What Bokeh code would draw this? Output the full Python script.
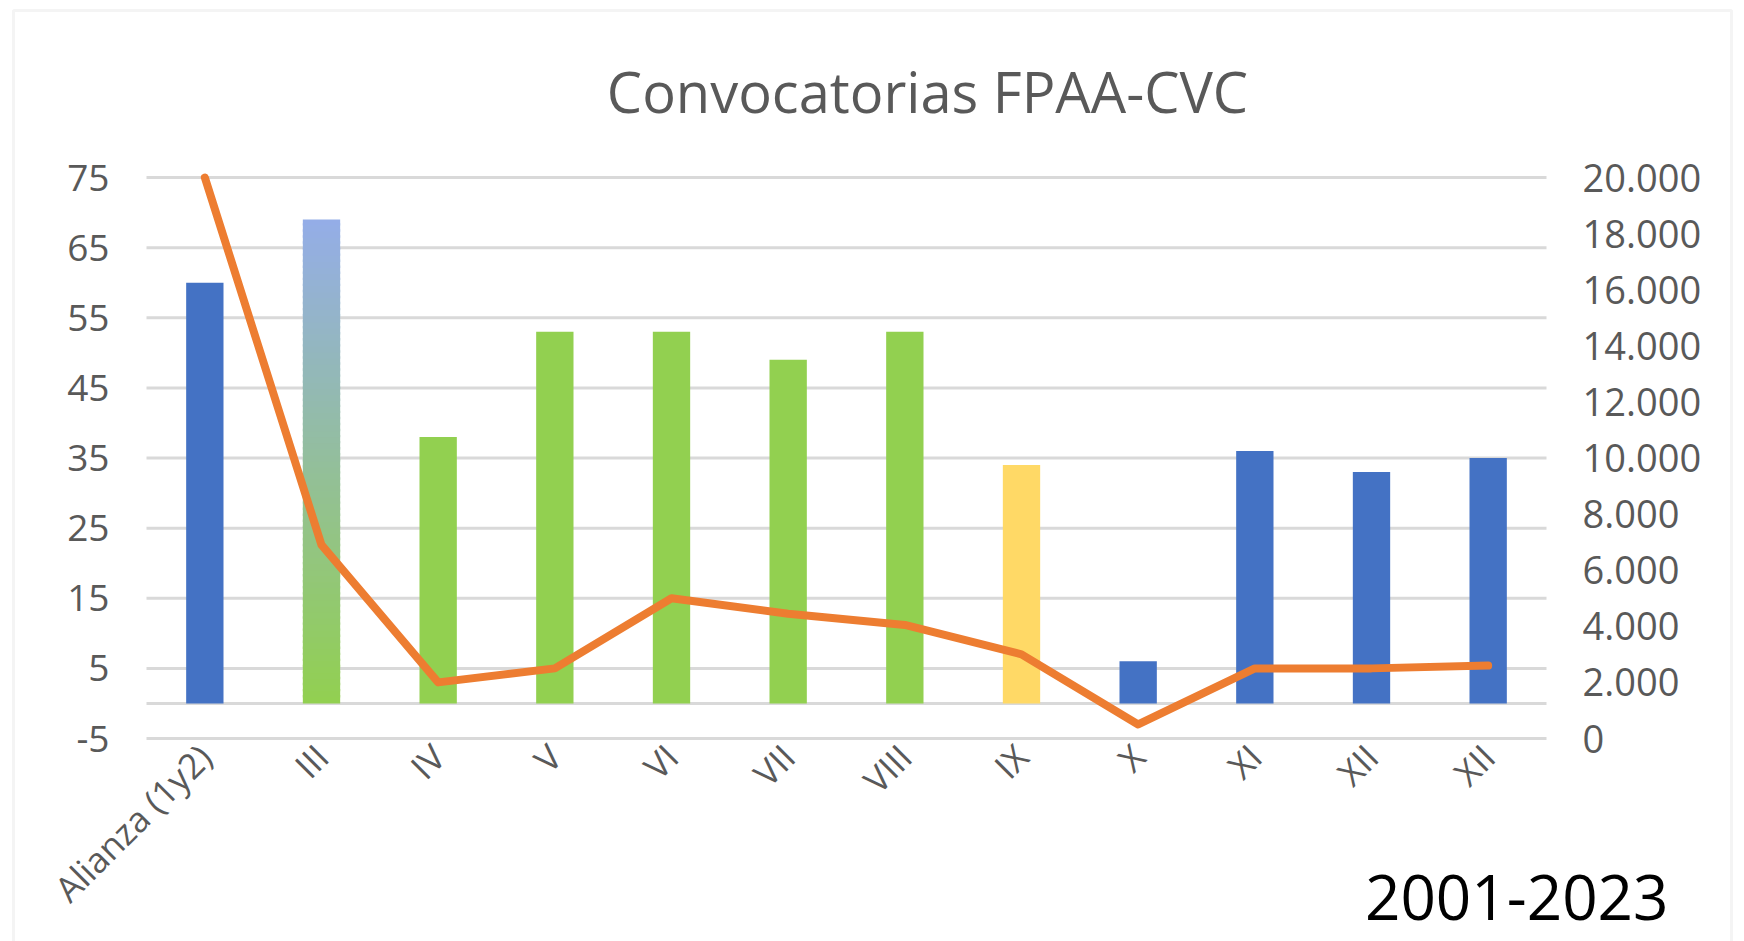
import numpy as np
from bokeh.plotting import figure
from bokeh.models import Range1d, LinearAxis, FixedTicker, Label, BoxAnnotation
from bokeh.embed import file_html
from bokeh.resources import INLINE

# ---------------- data ----------------
title_text = "Convocatorias FPAA-CVC"
period_text = "2001-2023"
categories = ["Alianza (1y2)", "III", "IV", "V", "VI", "VII", "VIII", "IX", "X", "XI", "XII", "XII"]
bar_values = [60, 69, 38, 53, 53, 49, 53, 34, 6, 36, 33, 35]
bar_colors = ["#4472C4", "gradient", "#92D050", "#92D050", "#92D050", "#92D050", "#92D050",
              "#FFD966", "#4472C4", "#4472C4", "#4472C4", "#4472C4"]
line_values = [20000, 6900, 2000, 2500, 5000, 4450, 4050, 3000, 500, 2500, 2500, 2600]
left_ticks = [-5, 5, 15, 25, 35, 45, 55, 65, 75]
left_tick_labels = ["-5", "5", "15", "25", "35", "45", "55", "65", "75"]
right_ticks = [0, 2000, 4000, 6000, 8000, 10000, 12000, 14000, 16000, 18000, 20000]
right_tick_labels = ["0", "2.000", "4.000", "6.000", "8.000", "10.000", "12.000",
                     "14.000", "16.000", "18.000", "20.000"]
left_min, left_max = -5, 75
right_min, right_max = 0, 20000
gradient_top = "#94ADE8"
gradient_bottom = "#92D050"

# ---------------- layout (pixels on the canvas) ----------------
W, H = 1744, 941
PX_L, PX_R = 146, 1546      # plot area left / right
PY_T, PY_B = 177, 738       # plot area top / bottom

n = len(categories)
x_lo, x_hi = -0.5, n - 0.5
sx = (PX_R - PX_L) / (x_hi - x_lo)
sy = (PY_B - PY_T) / (left_max - left_min)
sr = (PY_B - PY_T) / (right_max - right_min)

x_range = Range1d(x_lo - PX_L / sx, x_lo + (W - PX_L) / sx)
y_range = Range1d(left_min - (H - PY_B) / sy, left_max + PY_T / sy)
r_range = Range1d(right_min - (H - PY_B) / sr, right_max + PY_T / sr)


def px2x(px):
    return x_lo + (px - PX_L) / sx


def py2y(py):
    return left_min + (PY_B - py) / sy


p = figure(width=W, height=H, x_range=x_range, y_range=y_range,
           output_backend="svg", toolbar_location=None, min_border=0)
p.extra_y_ranges = {"right": r_range}
p.outline_line_color = None
p.background_fill_color = "white"
p.border_fill_color = "white"
p.xgrid.visible = False
p.ygrid.visible = False

FONT = "Open Sans"
GREY = "#595959"
GRID = "#D9D9D9"

xs = list(range(n))

# left axis
ya = p.yaxis[0]
ya.fixed_location = x_lo
ya.ticker = FixedTicker(ticks=left_ticks)
ya.major_label_overrides = {t: l for t, l in zip(left_ticks, left_tick_labels)}
ya.axis_line_color = None
ya.major_tick_line_color = None
ya.minor_tick_line_color = None
ya.major_label_text_font = FONT
ya.major_label_text_font_size = "37px"
ya.major_label_text_color = GREY
ya.major_label_standoff = 31

# x axis
xa = p.xaxis[0]
xa.fixed_location = left_min
xa.ticker = FixedTicker(ticks=xs)
xa.major_label_overrides = {i: c for i, c in zip(xs, categories)}
xa.major_label_orientation = np.pi / 4
xa.axis_line_color = None
xa.major_tick_line_color = None
xa.minor_tick_line_color = None
xa.major_label_text_font = FONT
xa.major_label_text_font_size = "35px"
xa.major_label_text_color = GREY
xa.major_label_standoff = 6

# right axis
ax_r = LinearAxis(y_range_name="right", ticker=FixedTicker(ticks=right_ticks),
                  major_label_overrides={t: l for t, l in zip(right_ticks, right_tick_labels)})
ax_r.fixed_location = x_hi
ax_r.axis_line_color = None
ax_r.major_tick_line_color = None
ax_r.minor_tick_line_color = None
ax_r.major_label_text_font = FONT
ax_r.major_label_text_font_size = "38px"
ax_r.major_label_text_color = GREY
ax_r.major_label_standoff = 30
p.add_layout(ax_r, "right")

# horizontal gridlines of the plot area (plus the zero line of the category axis)
grid_y = left_ticks + [0]
p.segment(x0=[x_lo] * len(grid_y), x1=[x_hi] * len(grid_y), y0=grid_y, y1=grid_y,
          line_color=GRID, line_width=3)

# bars
BW = 0.32
solid_x = [x for x, c in zip(xs, bar_colors) if c != "gradient"]
solid_v = [v for v, c in zip(bar_values, bar_colors) if c != "gradient"]
solid_c = [c for c in bar_colors if c != "gradient"]
p.vbar(x=solid_x, top=solid_v, bottom=0, width=BW, fill_color=solid_c, line_color=None)


def hex2rgb(h):
    h = h.lstrip("#")
    return np.array([int(h[i:i + 2], 16) for i in (0, 2, 4)], dtype=float)


c0, c1 = hex2rgb(gradient_bottom), hex2rgb(gradient_top)
N = 80
for x, v, c in zip(xs, bar_values, bar_colors):
    if c != "gradient":
        continue
    bots, tops, cols = [], [], []
    for k in range(N):
        t = (k + 0.5) / N
        rgb = c0 + (c1 - c0) * t
        bots.append(v * k / N)
        tops.append(min(v, v * (k + 1.4) / N))
        cols.append("#%02x%02x%02x" % tuple(int(round(q)) for q in rgb))
    p.vbar(x=[x] * N, bottom=bots, top=tops, width=BW, fill_color=cols, line_color=None)

# line on the secondary axis
p.line(x=xs, y=line_values, y_range_name="right", line_color="#ED7D31", line_width=8,
       line_join="round", line_cap="round")

# title and period text
p.add_layout(Label(x=px2x(927), y=py2y(90), text=title_text,
                   text_align="center", text_baseline="alphabetic", text_font=FONT,
                   text_font_size="56px", text_color=GREY))
p.add_layout(Label(x=px2x(1668), y=py2y(897), text=period_text,
                   text_align="right", text_baseline="alphabetic", text_font=FONT,
                   text_font_size="62px", text_color="black"))

# outer chart border
p.add_layout(BoxAnnotation(left=px2x(13), right=px2x(1731), top=py2y(10), bottom=py2y(1100),
                           fill_color=None, line_color=GRID, line_width=3))

open("out.html", "w").write(file_html(p, INLINE))
